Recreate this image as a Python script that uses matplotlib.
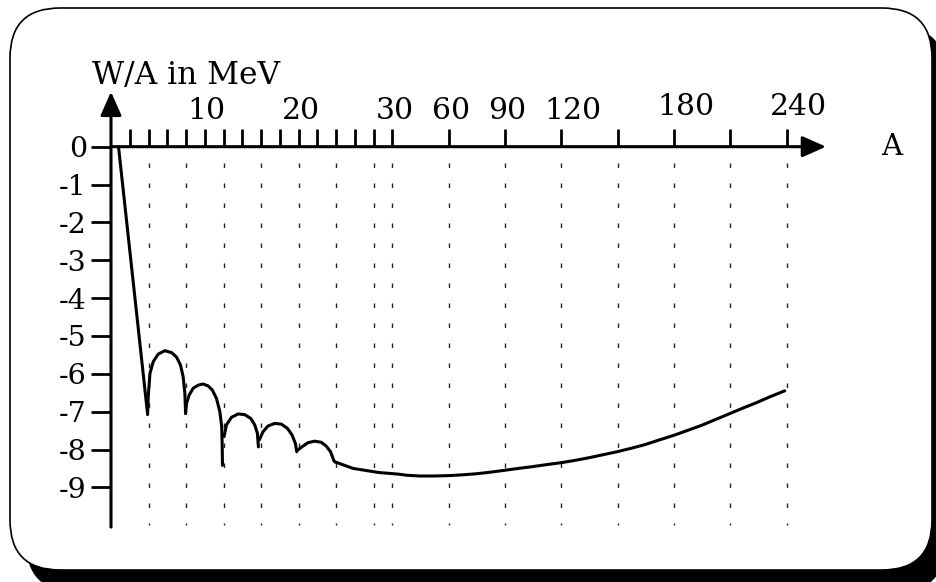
# Binding energy per nucleon, W/A vs mass number A (schematic curve)

import numpy as np
import matplotlib
matplotlib.use("Agg")
import matplotlib.pyplot as plt
from matplotlib.patches import FancyBboxPatch
from matplotlib.transforms import offset_copy

# --- values ---
light_A = [0.8, 3.9]
light_W = [0.0, -7.07]

arc1_A = [3.9, 3.97, 4.15, 4.5, 5.03, 5.74, 6.46, 6.99, 7.41, 7.69, 7.87, 7.95]
arc1_W = [-7.07, -6.6, -5.99, -5.68, -5.48, -5.39, -5.44, -5.56, -5.77, -6.08, -6.51, -7.05]

arc2_A = [7.95, 8.05, 8.33, 8.76, 9.29, 9.82, 10.35, 10.8, 11.24, 11.6, 11.8, 11.85, 11.88]
arc2_W = [-7.05, -6.78, -6.56, -6.38, -6.3, -6.27, -6.32, -6.43, -6.65, -7.0, -7.4, -7.9, -8.42]

arc3_A = [12.05, 12.3, 12.84, 13.55, 14.26, 14.9, 15.32, 15.6, 15.71]
arc3_W = [-7.66, -7.35, -7.15, -7.06, -7.08, -7.18, -7.35, -7.57, -7.93]

arc4_A = [15.8, 16.2, 16.73, 17.45, 18.16, 18.8, 19.3, 19.65, 19.8]
arc4_W = [-7.75, -7.53, -7.38, -7.31, -7.33, -7.44, -7.62, -7.84, -8.06]

arc5_A = [19.93, 20.35, 20.99, 21.7, 22.41, 22.94, 23.4, 23.76, 23.9]
arc5_W = [-8.01, -7.93, -7.82, -7.78, -7.81, -7.91, -8.06, -8.3, -8.33]

heavy_A = [23.9, 25.8, 28.6, 33, 37.6, 44.7, 52, 59.8, 67, 74.9, 82, 89.6, 97, 105,
           112, 119.6, 127, 134.4, 142, 149.6, 157, 164.6, 172, 179.6, 187, 194.8,
           202, 209.8, 217, 224.1, 231, 239]
heavy_W = [-8.33, -8.5, -8.61, -8.65, -8.68, -8.7, -8.7, -8.69, -8.67, -8.64, -8.6,
           -8.55, -8.5, -8.45, -8.4, -8.35, -8.29, -8.22, -8.14, -8.06, -7.97, -7.87,
           -7.75, -7.63, -7.5, -7.36, -7.21, -7.05, -6.9, -6.76, -6.61, -6.45]

x_ticks = [2, 4, 6, 8, 10, 12, 14, 16, 18, 20, 22, 24, 26, 28, 30,
           60, 90, 120, 150, 180, 210, 240]
x_labels = [10, 20, 30, 60, 90, 120, 180, 240]
grid_A = [4, 8, 12, 16, 20, 24, 28, 30, 60, 90, 120, 150, 180, 210, 240]
y_ticks = [0, -1, -2, -3, -4, -5, -6, -7, -8, -9]
y_labels = ["0", "-1", "-2", "-3", "-4", "-5", "-6", "-7", "-8", "-9"]


# axis is stretched up to A=30, then every 30 units take the room of 6
def fwd(a):
    a = np.asarray(a, dtype=float)
    return np.where(a <= 30, a, 30 + (a - 30) / 5.0)


def inv(f):
    f = np.asarray(f, dtype=float)
    return np.where(f <= 30, f, 30 + (f - 30) * 5.0)


plt.rcParams['font.family'] = ['DejaVu Serif']

W, H = 937, 582
fig = plt.figure(figsize=(W / 100, H / 100), dpi=100)

# --- rounded card with a drop shadow ---
bg = fig.add_axes([0, 0, 1, 1])
bg.set_xlim(0, W)
bg.set_ylim(H, 0)
bg.axis('off')
bg.add_patch(FancyBboxPatch((26, 26), 920, 566, boxstyle='round,pad=0,rounding_size=50',
                            fc='black', ec='none'))
bg.add_patch(FancyBboxPatch((10, 8), 922, 562, boxstyle='round,pad=0,rounding_size=50',
                            fc='white', ec='black', lw=1.2))
bg.text(92, 84, 'W/A in MeV', fontsize=22.5, ha='left', va='baseline')
bg.text(892, 147, 'A', fontsize=21, ha='center', va='center')

# --- main plot ---
x0, x1 = 111, 826
ytop, ybot = 91.8, 527.1
ax = fig.add_axes([x0 / W, 1 - ybot / H, (x1 - x0) / W, (ybot - ytop) / H])
ax.patch.set_alpha(0)
ax.set_xscale('function', functions=(fwd, inv))
ax.set_xlim(0, float(inv(76.2)))
ax.set_ylim(-10.05, 1.45)

for s in ['right', 'bottom', 'left', 'top']:
    ax.spines[s].set_visible(False)
ax.spines['top'].set_position(('data', 0))

ax.xaxis.set_ticks_position('top')
ax.set_xticks(x_ticks)
ax.xaxis.set_minor_locator(matplotlib.ticker.NullLocator())
ax.tick_params(axis='x', which='major', direction='out', length=13, width=2,
               labeltop=False, labelbottom=False)

ax.set_yticks(y_ticks)
ax.set_yticklabels(y_labels)
ax.yaxis.set_minor_locator(matplotlib.ticker.NullLocator())
ax.tick_params(axis='y', direction='out', length=14.4, width=2, pad=3, labelsize=20.5)

# axis lines with arrow heads
arrow = dict(arrowstyle='-|>,head_length=0.72,head_width=0.32', mutation_scale=20,
             lw=2.2, color='black', shrinkA=0, shrinkB=0)
ax.annotate('', xy=(0, 1.45), xytext=(0, -10.05), arrowprops=arrow, annotation_clip=False)
ax.annotate('', xy=(float(inv(76.2)), 0), xytext=(0, 0), arrowprops=arrow,
            annotation_clip=False)

# x labels sit above the axis, left edge a bit before the tick
label_raise = {180: 4, 240: 4}
for lab in x_labels:
    tr = offset_copy(ax.transData, fig, x=-17, y=28 + label_raise.get(lab, 0), units='dots')
    ax.text(lab, 0, str(lab), transform=tr, ha='left', va='baseline', fontsize=21.5)

# dotted guide lines
ax.vlines(grid_A, -0.42, -10.0, colors='#222222', linestyles=(0, (3.2, 11.2)), lw=1.0)

for a_vals, w_vals in [(light_A, light_W), (arc1_A, arc1_W), (arc2_A, arc2_W),
                       (arc3_A, arc3_W), (arc4_A, arc4_W), (arc5_A, arc5_W),
                       (heavy_A, heavy_W)]:
    ax.plot(a_vals, w_vals, color='black', lw=2.2,
            solid_capstyle='round', solid_joinstyle='round')

fig.savefig('out.png', dpi=100)
